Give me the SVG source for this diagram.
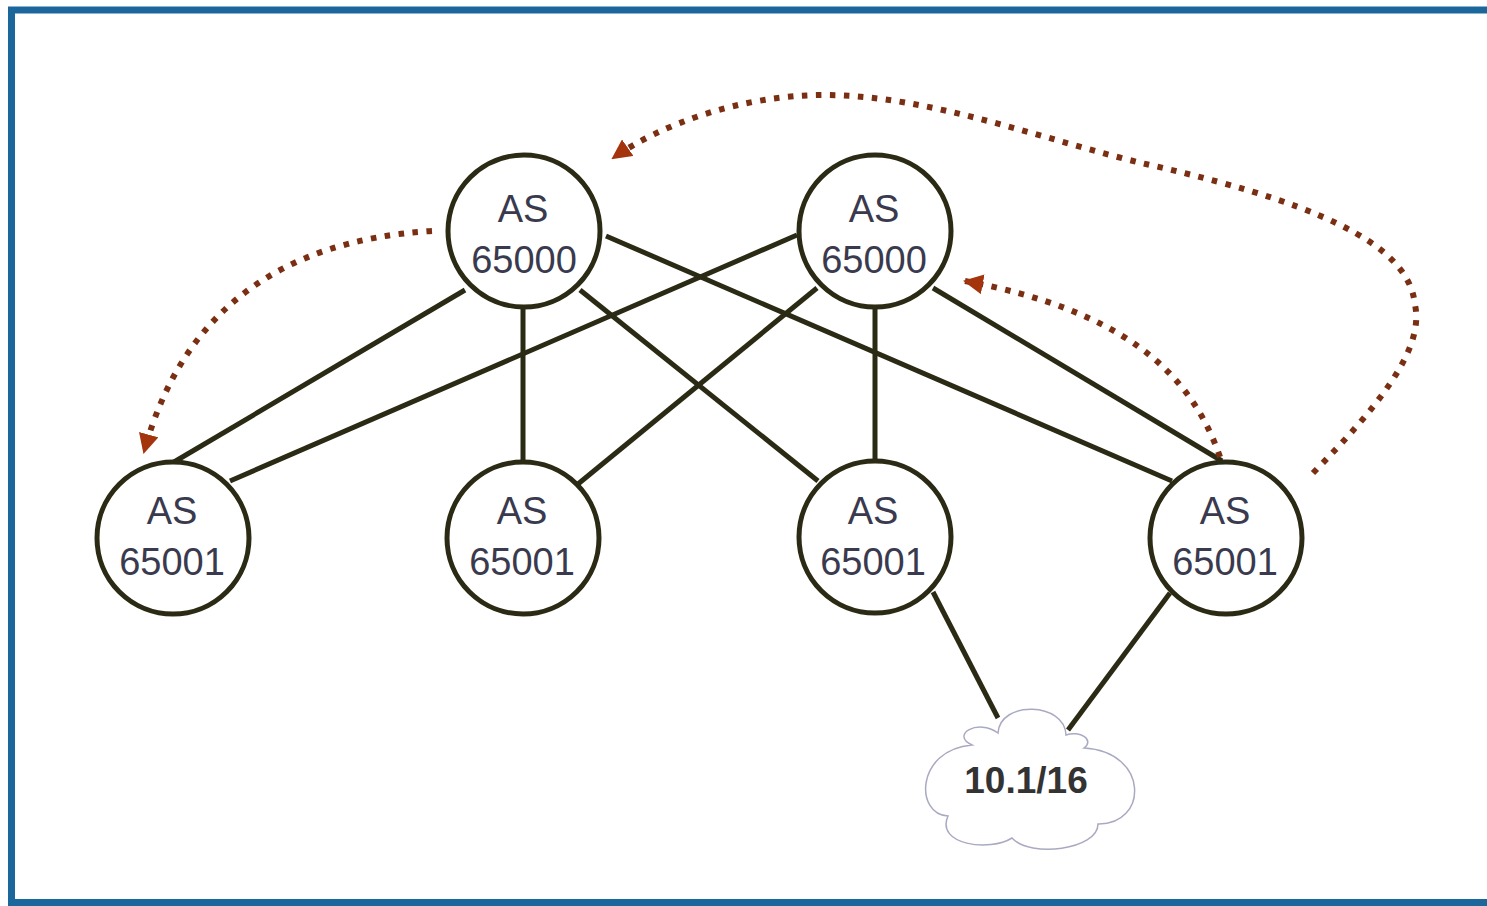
<svg xmlns="http://www.w3.org/2000/svg" width="1487" height="906" viewBox="0 0 1487 906">
<style>
.node{fill:#ffffff;stroke:#2b2a14;stroke-width:5}
.edge{stroke:#2b2a14;stroke-width:5;fill:none;stroke-linecap:butt}
.dot{stroke:#7a2e12;stroke-width:6;fill:none;stroke-dasharray:5.5 8.5}
.lbl{font-family:"Liberation Sans",Arial,sans-serif;font-size:38px;fill:#3a3a4e;text-anchor:middle}
.cloud{fill:#ffffff;stroke:#a9aac2;stroke-width:1.5}
.ctext{font-family:"Liberation Sans",Arial,sans-serif;font-size:37px;font-weight:bold;fill:#333333;text-anchor:middle}
</style>
<defs>
<marker id="ah" viewBox="0 0 20 20" refX="18" refY="10" markerWidth="20" markerHeight="20" markerUnits="userSpaceOnUse" orient="auto">
<path d="M0 0 L20 10 L0 20 Z" fill="#a3340c"/>
</marker>
</defs>
<rect x="11.5" y="10" width="1500" height="892.5" fill="#ffffff" stroke="#1b679b" stroke-width="7"/>
<g id="connectors">
<line class="edge" x1="465" y1="290" x2="174" y2="462"/>
<line class="edge" x1="523" y1="305" x2="523" y2="463"/>
<line class="edge" x1="580" y1="290" x2="818" y2="481"/>
<line class="edge" x1="606" y1="236" x2="1172" y2="481"/>
<line class="edge" x1="797" y1="235" x2="230" y2="481"/>
<line class="edge" x1="817" y1="288" x2="578" y2="484"/>
<line class="edge" x1="875" y1="305" x2="875" y2="463"/>
<line class="edge" x1="933" y1="288" x2="1222" y2="461"/>
<line class="edge" x1="933" y1="592" x2="998" y2="718"/>
<line class="edge" x1="1170" y1="593" x2="1068" y2="730"/>
<path class="dot" d="M 432 231 Q 200 245 144 452" marker-end="url(#ah)"/>
<path class="dot" d="M 1313 473 C 1375 410 1425 350 1415 305 C 1410 255 1350 210 1150 165 C 1050 142 930 95 825 95 C 740 95 660 125 613 158" marker-end="url(#ah)"/>
<path class="dot" d="M 1220 457 C 1190 370 1120 310 965 281" marker-end="url(#ah)"/>
</g>
<g id="n-top1"><circle class="node" cx="524" cy="231" r="76"/><text class="lbl" x="523" y="222">AS</text><text class="lbl" x="524" y="273">65000</text></g>
<g id="n-top2"><circle class="node" cx="875" cy="231" r="76"/><text class="lbl" x="874" y="222">AS</text><text class="lbl" x="874" y="273">65000</text></g>
<g id="n-b1"><circle class="node" cx="173" cy="538" r="76"/><text class="lbl" x="172" y="524">AS</text><text class="lbl" x="172" y="575">65001</text></g>
<g id="n-b2"><circle class="node" cx="523" cy="538" r="76"/><text class="lbl" x="522" y="524">AS</text><text class="lbl" x="522" y="575">65001</text></g>
<g id="n-b3"><circle class="node" cx="875" cy="537" r="76"/><text class="lbl" x="873" y="524">AS</text><text class="lbl" x="873" y="575">65001</text></g>
<g id="n-b4"><circle class="node" cx="1226" cy="538" r="76"/><text class="lbl" x="1225" y="524">AS</text><text class="lbl" x="1225" y="575">65001</text></g>
<g id="n-cloud">
<path class="cloud" d="M 972 745 C 950 735 978 718 998 733 C 1000 700 1065 702 1066 735 C 1080 730 1095 740 1084 748 C 1150 752 1148 825 1098 824 C 1098 850 1030 858 1012 838 C 990 852 935 845 948 816 C 915 815 915 750 972 745 Z"/>
<text class="ctext" x="1026" y="793">10.1/16</text>
</g>
</svg>
